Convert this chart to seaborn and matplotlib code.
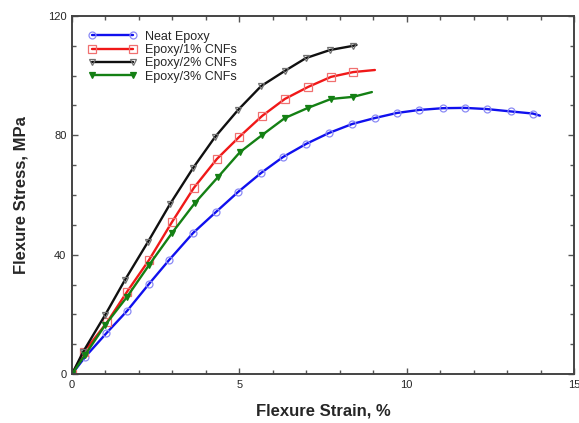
import matplotlib
matplotlib.use("Agg")
import matplotlib.pyplot as plt
from matplotlib.ticker import MultipleLocator
import seaborn as sns
import pandas as pd

# Flexural stress-strain curves (strain in %, stress in MPa); the last point of
# each curve is the end of the test and carries no marker.
neat_strain = [0.0, 0.39, 1.02, 1.64, 2.30, 2.90, 3.62, 4.30, 4.96, 5.65, 6.30,
               6.99, 7.68, 8.37, 9.05, 9.71, 10.37, 11.08, 11.74, 12.40, 13.12, 13.77, 13.98]
neat_stress = [0.0, 5.7, 13.6, 21.1, 30.2, 38.2, 47.3, 54.3, 61.0, 67.4, 72.7,
               77.1, 80.8, 83.8, 85.8, 87.5, 88.5, 89.1, 89.2, 88.8, 88.0, 87.3, 86.6]

cnf1_strain = [0.0, 0.36, 1.05, 1.64, 2.30, 2.99, 3.64, 4.33, 4.99, 5.68, 6.36,
               7.05, 7.74, 8.40, 9.05]
cnf1_stress = [0.0, 7.4, 17.4, 27.5, 38.2, 51.0, 62.4, 72.1, 79.4, 86.5, 92.2,
               96.2, 99.6, 101.2, 101.9]

cnf2_strain = [0.0, 0.33, 0.99, 1.58, 2.27, 2.93, 3.62, 4.27, 4.96, 5.65, 6.36,
               6.99, 7.71, 8.40, 8.50]
cnf2_stress = [0.0, 7.4, 19.8, 31.5, 44.3, 57.0, 69.1, 79.4, 88.5, 96.5, 101.6,
               105.9, 108.6, 110.0, 110.3]

cnf3_strain = [0.0, 0.39, 0.99, 1.64, 2.30, 2.99, 3.67, 4.36, 5.02, 5.68, 6.36,
               7.05, 7.74, 8.40, 8.96]
cnf3_stress = [0.0, 6.4, 16.4, 25.8, 36.5, 47.3, 57.3, 66.0, 74.4, 80.1, 85.8,
               89.2, 92.2, 92.9, 94.5]

labels = ["Neat Epoxy", "Epoxy/1% CNFs", "Epoxy/2% CNFs", "Epoxy/3% CNFs"]
x_ticks = [0, 5, 10, 15]
y_ticks = [0, 40, 80, 120]

sns.set_theme(style="ticks")
plt.rcParams["font.family"] = ["Liberation Sans", "DejaVu Sans"]

fig = plt.figure(figsize=(5.79, 4.23), dpi=100)
ax = fig.add_axes([0.1244, 0.1158, 0.8670, 0.8464])

series = [
    (neat_strain, neat_stress, dict(color="#1010ee", marker="o", markersize=5,
                                    markerfacecolor="none", markeredgecolor="#8a8af5",
                                    markeredgewidth=0.9)),
    (cnf1_strain, cnf1_stress, dict(color="#f01818", marker="s", markersize=5.5,
                                    markerfacecolor="none", markeredgecolor="#f07070",
                                    markeredgewidth=0.9)),
    (cnf2_strain, cnf2_stress, dict(color="#101010", marker="v", markersize=4.5,
                                    markerfacecolor="none", markeredgecolor="#707070",
                                    markeredgewidth=0.9)),
    (cnf3_strain, cnf3_stress, dict(color="#148014", marker="v", markersize=5,
                                    markerfacecolor="#148014", markeredgecolor="#148014",
                                    markeredgewidth=0.9)),
]

for (xs, ys, style), name in zip(series, labels):
    df = pd.DataFrame({"strain": xs, "stress": ys})
    sns.lineplot(data=df, x="strain", y="stress", ax=ax, sort=False, estimator=None,
                 linewidth=1.7, label=name, markevery=list(range(len(xs) - 1)),
                 **style)

ax.set_xlim(0, 15)
ax.set_ylim(0, 120)
ax.set_xticks(x_ticks)
ax.set_yticks(y_ticks)
ax.xaxis.set_minor_locator(MultipleLocator(1))
ax.yaxis.set_minor_locator(MultipleLocator(10))
ax.tick_params(which="both", direction="in", top=True, right=True,
               color="#555555", labelsize=8, pad=4)
ax.tick_params(which="major", length=4, width=1)
ax.tick_params(which="minor", length=3, width=1)
for sp in ax.spines.values():
    sp.set_visible(True)
    sp.set_color("#444444")
    sp.set_linewidth(1.4)

ax.set_xlabel("Flexure Strain, %", fontsize=12, fontweight="bold", labelpad=10)
ax.set_ylabel("Flexure Stress, MPa", fontsize=12, fontweight="bold", labelpad=14)

leg = ax.legend(loc="upper left", bbox_to_anchor=(0.01, 0.99), frameon=False,
                fontsize=9, numpoints=2, handlelength=3.9, labelspacing=0.1,
                handletextpad=0.6)

fig.savefig("out.png", dpi=100)
